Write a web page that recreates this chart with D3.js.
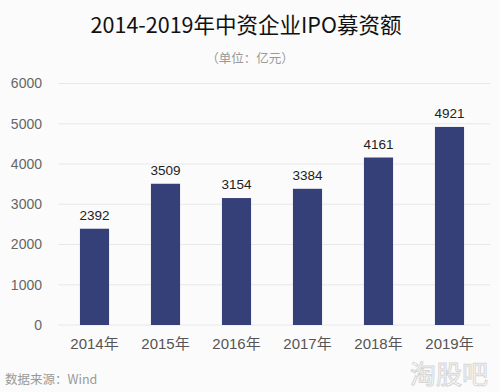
<!DOCTYPE html>
<html>
<head>
<meta charset="utf-8">
<script src="https://cdn.jsdelivr.net/npm/d3@7"></script>
<style>
body { margin: 0; background: #fbfbfb; }
svg { display: block; }
</style>
</head>
<body>
<div id="chart"></div>
<script>
var years = ["2014年", "2015年", "2016年", "2017年", "2018年", "2019年"];
var amounts = [2392, 3509, 3154, 3384, 4161, 4921];
var yTicks = [0, 1000, 2000, 3000, 4000, 5000, 6000];

var W = 499, H = 392;
var fontCJK = "'Noto Sans CJK SC', 'Noto Sans', sans-serif";
var fontNum = "Arial, 'Liberation Sans', sans-serif";
var fontMix = "Arial, 'Liberation Sans', 'Noto Sans CJK SC', sans-serif";

var svg = d3.select("#chart").append("svg")
  .attr("width", W).attr("height", H);

svg.append("rect").attr("width", W).attr("height", H).attr("fill", "#fbfbfb");

// title
svg.append("text")
  .attr("x", 246).attr("y", 33)
  .attr("text-anchor", "middle")
  .attr("font-family", fontCJK)
  .attr("font-size", 21.5)
  .attr("font-weight", 400)
  .attr("fill", "#111")
  .text("2014-2019年中资企业IPO募资额");

svg.append("text")
  .attr("x", 250).attr("y", 63)
  .attr("text-anchor", "middle")
  .attr("font-family", fontCJK)
  .attr("font-size", 12.5)
  .attr("fill", "#999")
  .text("（单位：亿元）");

var x = d3.scaleBand().domain(years).range([59, 485]).paddingInner(0.59).paddingOuter(0.295);
var y = d3.scaleLinear().domain([0, 6000]).range([325, 83.5]);

// gridlines
svg.append("g")
  .selectAll("line").data(yTicks).join("line")
  .attr("x1", 58).attr("x2", 490)
  .attr("y1", function(d) { return y(d); })
  .attr("y2", function(d) { return y(d); })
  .attr("stroke", "#e8e8e8").attr("stroke-width", 1);

// y axis
var yAxis = svg.append("g")
  .attr("transform", "translate(42,0)")
  .call(d3.axisLeft(y).tickValues(yTicks).tickFormat(d3.format("d")).tickSize(0).tickPadding(0));
yAxis.select(".domain").remove();
yAxis.selectAll("text")
  .attr("font-family", fontNum)
  .attr("font-size", 14)
  .attr("fill", "#666");

// bars
svg.append("g")
  .selectAll("rect").data(amounts).join("rect")
  .attr("x", function(d, i) { return x(years[i]); })
  .attr("width", x.bandwidth())
  .attr("y", function(d) { return y(d); })
  .attr("height", function(d) { return y(0) - y(d); })
  .attr("fill", "#353f78");

// value labels
svg.append("g")
  .selectAll("text").data(amounts).join("text")
  .attr("x", function(d, i) { return x(years[i]) + x.bandwidth() / 2; })
  .attr("y", function(d) { return y(d) - 9; })
  .attr("text-anchor", "middle")
  .attr("font-family", fontNum)
  .attr("font-size", 13.5)
  .attr("fill", "#222")
  .text(function(d) { return d; });

// x axis
var xAxis = svg.append("g")
  .attr("transform", "translate(0,325)")
  .call(d3.axisBottom(x).tickSize(0).tickPadding(13));
xAxis.select(".domain").remove();
xAxis.selectAll("text")
  .attr("font-family", fontMix)
  .attr("font-size", 15)
  .attr("fill", "#555");

// source
svg.append("text")
  .attr("x", 5).attr("y", 384)
  .attr("font-family", fontCJK)
  .attr("font-size", 12.5)
  .attr("fill", "#999")
  .text("数据来源：Wind");

// watermark
svg.append("text")
  .attr("x", 488).attr("y", 384)
  .attr("text-anchor", "end")
  .attr("font-family", fontCJK)
  .attr("font-size", 26)
  .attr("fill", "#fff")
  .attr("stroke", "#d6d6d6")
  .attr("stroke-width", 1)
  .text("淘股吧");
</script>
</body>
</html>
